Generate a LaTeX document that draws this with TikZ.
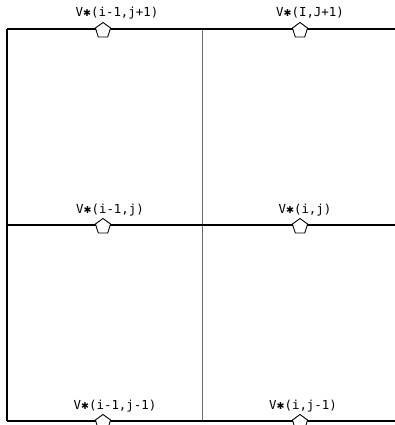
\documentclass[tikz,border=0pt]{standalone}
\usepackage{fontspec}
\newfontfamily\cadfont{DejaVu Sans Mono}
\newfontfamily\astfont{DejaVu Sans}
\newcommand{\cadast}{{\astfont\fontsize{9.5}{10}\selectfont ✱}}
\usetikzlibrary{shapes.geometric}
\begin{document}
\begin{tikzpicture}[x=1pt,y=-1pt,
  hline/.style={draw=black,line width=1.3pt},
  vline/.style={draw=gray!85!black,line width=1.9pt},
  lline/.style={draw=black,line width=1.3pt},
  penta/.style={regular polygon,regular polygon sides=5,draw=black,line width=0.9pt,fill=white,minimum size=16pt,inner sep=0pt},
  lbl/.style={font=\cadfont\fontsize{12.4}{14}\selectfont,anchor=base,inner sep=0pt}]
\useasboundingbox (0,0) rectangle (395,425);
% grid corners
\coordinate (tl) at (7,29);
\coordinate (tm) at (202.5,29);
\coordinate (tr) at (395,29);
\coordinate (ml) at (7,225);
\coordinate (mm) at (202.5,225);
\coordinate (mr) at (395,225);
\coordinate (bl) at (7,421);
\coordinate (bm) at (202.5,421);
\coordinate (br) at (395,421);
% lines
\draw[lline] (tl) -- (bl);
\draw[vline] (tm) -- (bm);
\draw[hline] (tl) -- (tr);
\draw[hline] (ml) -- (mr);
\draw[hline] (bl) -- (br);
% pentagons
\node[penta] (p1) at (103,30.5) {};
\node[penta] (p2) at (300,30.5) {};
\node[penta] (p3) at (103,226.5) {};
\node[penta] (p4) at (300,226.5) {};
\node[penta] (p5) at (103,422.5) {};
\node[penta] (p6) at (300,422.5) {};
% labels
\node[lbl] (t1) at (117,17) {V\cadast(i-1,j+1)};
\node[lbl] (t2) at (310,17) {V\cadast(I,J+1)};
\node[lbl] (t3) at (110,213) {V\cadast(i-1,j)};
\node[lbl] (t4) at (305,213) {V\cadast(i,j)};
\node[lbl] (t5) at (115,409) {V\cadast(i-1,j-1)};
\node[lbl] (t6) at (303,409) {V\cadast(i,j-1)};
\end{tikzpicture}
\end{document}
